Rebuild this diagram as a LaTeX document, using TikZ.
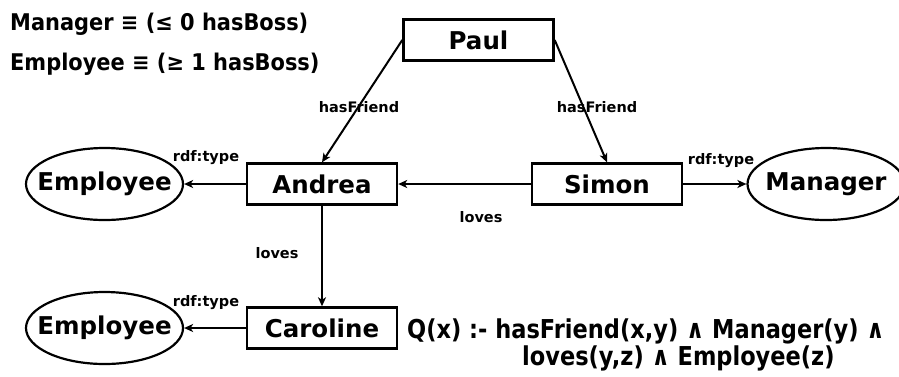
\documentclass[tikz,border=0pt]{standalone}
\usepackage{fontspec}
\setmainfont{DejaVu Sans}
\usetikzlibrary{arrows.meta,shapes.geometric}

\tikzset{
  every node/.style={font=\bfseries},
  entity/.style={draw, line width=2.4pt, minimum width=150pt, minimum height=41pt,
                 inner sep=0pt, font=\fontsize{24.5}{28}\bfseries},
  classnode/.style={draw, ellipse, line width=2.2pt, minimum width=157pt, minimum height=72pt,
                    inner xsep=-12pt, inner ysep=0pt, font=\fontsize{24.5}{28}\bfseries},
  edgelabel/.style={anchor=base, inner sep=0pt, font=\fontsize{14.5}{17}\bfseries},
  rel/.style={line width=2pt, -{Stealth[length=9pt,width=8pt,inset=2.5pt]}},
  axiom/.style={anchor=base west, inner sep=0pt, font=\fontsize{23}{27}\bfseries},
  query/.style={anchor=base west, inner sep=0pt, font=\fontsize{26}{30}\bfseries}
}

\begin{document}
\begin{tikzpicture}[x=1pt, y=-1pt]
  \useasboundingbox (0,0) rectangle (899,376);

  % class axioms
  \node[axiom] (ax1) at (10,30) {\scalebox{0.91}[1]{Manager ≡ (≤ 0 hasBoss)}};
  \node[axiom] (ax2) at (10,70) {\scalebox{0.91}[1]{Employee ≡ (≥ 1 hasBoss)}};

  % individuals
  \node[entity] (paul)     at (478.5,40) {Paul};
  \node[entity] (andrea)   at (322,184)  {Andrea};
  \node[entity] (simon)    at (607,184)  {Simon};
  \node[entity] (caroline) at (322,328)  {Caroline};

  % classes
  \node[classnode] (emp1) at (104.5,184) {Employee};
  \node[classnode] (mgr)  at (826,184)   {Manager};
  \node[classnode] (emp2) at (104.5,328) {Employee};

  % relations
  \draw[rel] (paul.west)   -- (andrea.north);
  \draw[rel] (paul.east)   -- (simon.north);
  \draw[rel] (simon.west)  -- (andrea.east);
  \draw[rel] (simon.east)  -- (mgr.west);
  \draw[rel] (andrea.west) -- (emp1.east);
  \draw[rel] (andrea.south) -- (caroline.north);
  \draw[rel] (caroline.west) -- (emp2.east);

  % relation labels
  \node[edgelabel] (l1) at (359,112) {hasFriend};
  \node[edgelabel] (l2) at (597,112) {hasFriend};
  \node[edgelabel] (l3) at (206,161) {rdf:type};
  \node[edgelabel] (l4) at (721,164) {rdf:type};
  \node[edgelabel] (l5) at (481,222) {loves};
  \node[edgelabel] (l6) at (277,258) {loves};
  \node[edgelabel] (l7) at (206,306) {rdf:type};

  % conjunctive query
  \node[query] (q1) at (407,338) {\scalebox{0.865}[1]{Q(x) :- hasFriend(x,y) ∧ Manager(y) ∧}};
  \node[query] (q2) at (522,365) {\scalebox{0.865}[1]{loves(y,z) ∧ Employee(z)}};
\end{tikzpicture}
\end{document}
